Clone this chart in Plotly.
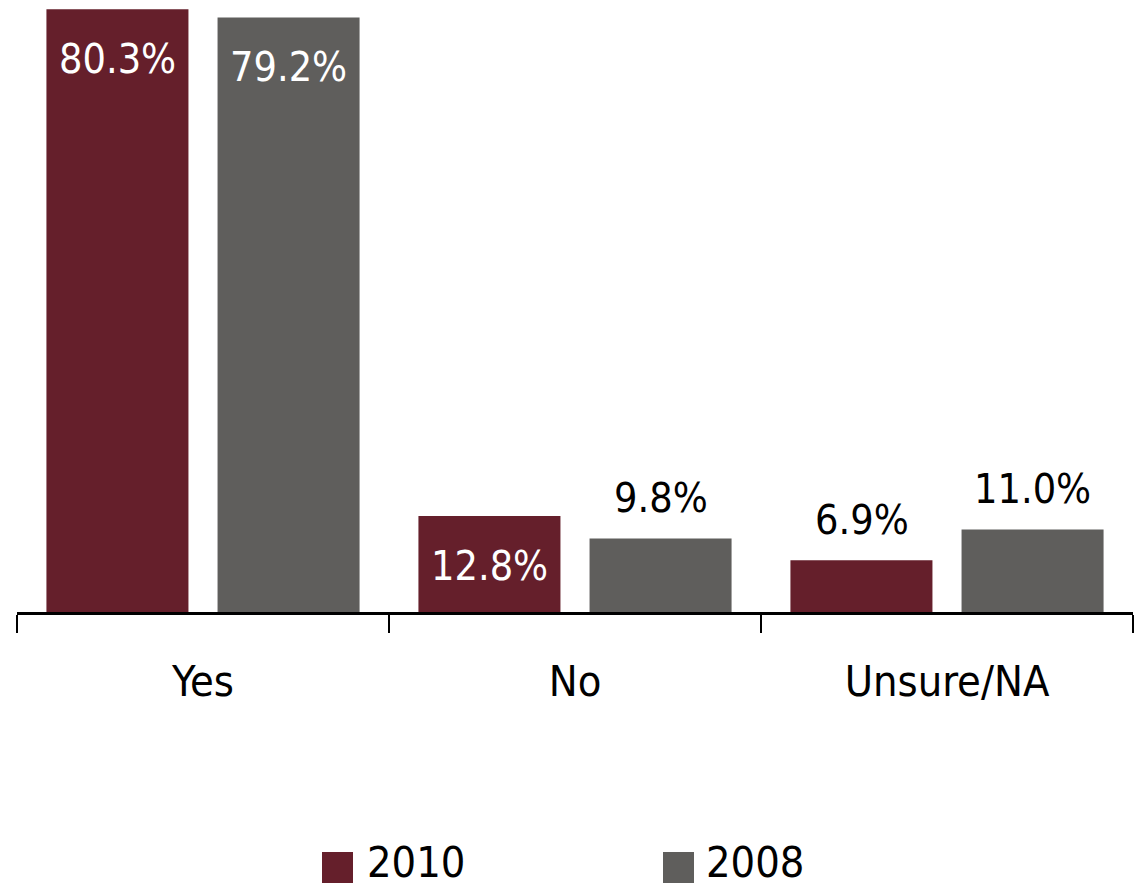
import plotly.graph_objects as go

categories = ["Yes", "No", "Unsure/NA"]
values_2010 = [80.3, 12.8, 6.9]
values_2008 = [79.2, 9.8, 11.0]
labels_2010 = ["80.3%", "12.8%", "6.9%"]
labels_2008 = ["79.2%", "9.8%", "11.0%"]
inside_2010 = [True, True, False]
inside_2008 = [True, False, False]
series_names = ["2010", "2008"]

C2010 = "#651F2B"
C2008 = "#5F5E5C"
FONT = "Liberation Sans Narrow, DejaVu Sans Condensed, Arial Narrow, Liberation Sans, sans-serif"

# page has an 8px body margin; size the figure to fill the rest of the window
OFF = 8
W, H = 1144 - OFF, 889 - OFF
ML, MR, MT, MB = 17 - OFF, 11, 0, 277
PW = W - ML - MR
PH = H - MT - MB

fig = go.Figure()
fig.add_trace(go.Bar(x=categories, y=values_2010, name=series_names[0],
                     marker=dict(color=C2010, line=dict(width=0)), showlegend=False))
fig.add_trace(go.Bar(x=categories, y=values_2008, name=series_names[1],
                     marker=dict(color=C2008, line=dict(width=0)), showlegend=False))

annotations = []
slot_shift = 85.5
for vals, labs, ins, shift in [(values_2010, labels_2010, inside_2010, -slot_shift),
                               (values_2008, labels_2008, inside_2008, slot_shift)]:
    for cat, v, lab, inside in zip(categories, vals, labs, ins):
        annotations.append(dict(
            x=cat, y=v, xref="x", yref="y", text=lab, showarrow=False,
            xshift=shift, yshift=(-50 if inside else 40),
            xanchor="center", yanchor="middle",
            font=dict(family=FONT, size=41, color="white" if inside else "black")))

# manual legend (large square swatches), positions given in page pixels
def px_x(p):
    return (p - OFF - ML) / PW

def px_y(p):
    return (MT + PH - (p - OFF)) / PH

shapes = []
legend_items = [(series_names[0], C2010, 322, 365), (series_names[1], C2008, 663, 704)]
for name, col, sx, tx in legend_items:
    shapes.append(dict(type="rect", xref="paper", yref="paper",
                       x0=px_x(sx), x1=px_x(sx + 31), y0=px_y(883), y1=px_y(852),
                       fillcolor=col, line=dict(width=0)))
    annotations.append(dict(x=px_x(tx), y=px_y(862), xref="paper", yref="paper",
                            text=name, showarrow=False, xanchor="left", yanchor="middle",
                            font=dict(family=FONT, size=43, color="black")))

fig.update_layout(
    width=W, height=H,
    margin=dict(l=ML, r=MR, t=MT, b=MB),
    paper_bgcolor="white", plot_bgcolor="white",
    barmode="group", bargap=0.08, bargroupgap=0.17,
    showlegend=False,
    annotations=annotations, shapes=shapes,
    xaxis=dict(showgrid=False, showline=True, linecolor="black", linewidth=2.5,
               ticks="outside", tickson="boundaries", ticklen=18, tickwidth=2,
               tickcolor="black", ticklabelstandoff=30,
               tickfont=dict(family=FONT, size=43, color="black")),
    yaxis=dict(range=[0, 80.45], visible=False, showgrid=False, zeroline=False),
)

fig.write_html("out.html")
